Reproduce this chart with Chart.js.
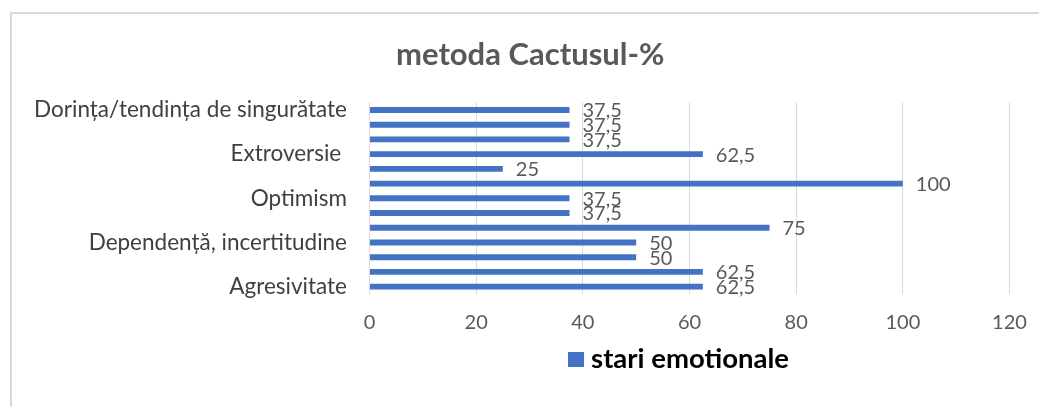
<!DOCTYPE html>
<html>
<head>
<meta charset="utf-8">
<script src="https://cdn.jsdelivr.net/npm/chart.js@4.4.0/dist/chart.umd.min.js"></script>
<style>
  html, body { margin: 0; padding: 0; background: #fff; }
  #wrap { position: relative; width: 1039px; height: 407px; overflow: hidden; }
  #frame { position: absolute; left: 10px; top: 12px; width: 1100px; height: 500px;
           border-top: 2px solid #d9d9d9; border-left: 2px solid #d9d9d9; pointer-events: none; }
</style>
</head>
<body>
<div id="wrap">
  <canvas id="chart" width="1039" height="407"></canvas>
  <div id="frame"></div>
</div>
<script>
// categories in Excel order (first one drawn at the bottom)
const categories = [
  'Agresivitate',
  'Impulsivitate',
  'Egocentrism, tendința de lider',
  'Dependență, incertitudine',
  'Demonstrativitate',
  'Ascunzime, prudență',
  'Optimism',
  'Anxietate',
  'Feminitate',
  'Extroversie ',
  'Introversie',
  'Dorința de protecție familială',
  'Dorința/tendința de singurătate'
];
const stariEmotionale = [62.5, 62.5, 50, 50, 75, 37.5, 37.5, 100, 25, 62.5, 37.5, 37.5, 37.5];
const seriesName = 'stari emotionale';
const chartTitle = 'metoda Cactusul-%';
const xTicks = [0, 20, 40, 60, 80, 100, 120];

const FONT = 'Lato, "Open Sans", sans-serif';
const GRAY = '#595959';
const BLUE = '#4472C4';

// value labels to the right of each bar, with a decimal comma
const valueLabels = {
  id: 'valueLabels',
  afterDatasetsDraw(chart) {
    const ctx = chart.ctx;
    const meta = chart.getDatasetMeta(0);
    ctx.save();
    ctx.font = '20px ' + FONT;
    ctx.fillStyle = GRAY;
    ctx.textAlign = 'left';
    ctx.textBaseline = 'middle';
    meta.data.forEach((bar, i) => {
      const txt = String(stariEmotionale[i]).replace('.', ',');
      ctx.fillText(txt, bar.x + 13, bar.y + 1);
    });
    ctx.restore();
  }
};

// legend under the axis, a bit left of the plot centre like in Excel
const bottomLegend = {
  id: 'bottomLegend',
  afterDraw(chart) {
    const ctx = chart.ctx;
    const area = chart.chartArea;
    const cx = (area.left + area.right) / 2 - 11;
    const cy = area.bottom + 65;
    ctx.save();
    ctx.font = 'bold 27.5px ' + FONT;
    const w = ctx.measureText(seriesName).width;
    const total = 16 + 7 + w;
    const x0 = cx - total / 2;
    ctx.fillStyle = BLUE;
    ctx.fillRect(x0, cy - 7, 16, 15);
    ctx.fillStyle = '#000';
    ctx.textAlign = 'left';
    ctx.textBaseline = 'middle';
    ctx.fillText(seriesName, x0 + 23, cy);
    ctx.restore();
  }
};

// the long category names spill left of the padding, so widen the
// y scale's label clip box to the canvas edge
const unclipLabels = {
  id: 'unclipLabels',
  afterLayout(chart) {
    chart.scales.y.left = 0;
  }
};

new Chart(document.getElementById('chart'), {
  type: 'bar',
  data: {
    labels: categories,
    datasets: [{
      label: seriesName,
      data: stariEmotionale,
      backgroundColor: BLUE,
      borderWidth: 0,
      barPercentage: 0.4,
      categoryPercentage: 1
    }]
  },
  options: {
    indexAxis: 'y',
    responsive: false,
    animation: false,
    layout: { padding: { left: 51, right: 29.5, top: 0, bottom: 68 } },
    plugins: {
      legend: { display: false },
      tooltip: { enabled: false },
      title: {
        display: true,
        text: chartTitle,
        color: GRAY,
        font: { family: FONT, size: 31, weight: 'bold', lineHeight: 1.2 },
        padding: { top: 36.2, bottom: 29.2 }
      }
    },
    scales: {
      x: {
        min: 0,
        max: 120,
        afterBuildTicks: (scale) => { scale.ticks = xTicks.map(v => ({ value: v })); },
        grid: { color: '#d9d9d9', drawTicks: true, tickLength: 13, tickColor: 'rgba(0,0,0,0)' },
        border: { display: false },
        ticks: { color: GRAY, padding: 4, font: { family: FONT, size: 20 } }
      },
      y: {
        reverse: true,
        afterFit: (scale) => { scale.width = 318.5; },
        grid: { display: false, drawTicks: false },
        border: { display: true, color: '#d9d9d9' },
        ticks: {
          autoSkip: false,
          color: '#404040',
          padding: 22.5,
          font: { family: FONT, size: 22.5 },
          callback: function (value, index) {
            return index % 3 === 0 ? this.getLabelForValue(value) : '';
          }
        }
      }
    }
  },
  plugins: [valueLabels, bottomLegend, unclipLabels]
});
</script>
</body>
</html>
